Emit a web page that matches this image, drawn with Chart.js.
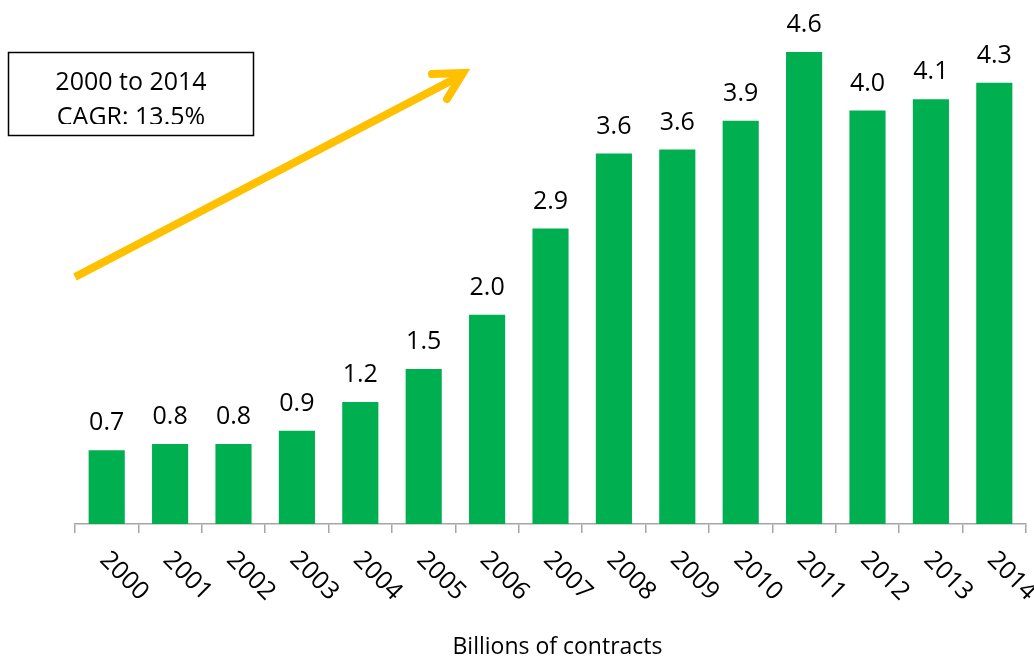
<!DOCTYPE html>
<html lang="en">
<head>
<meta charset="UTF-8">
<title>Billions of contracts 2000-2014</title>
<script src="https://cdn.jsdelivr.net/npm/chart.js@4.4.9/dist/chart.umd.js"></script>
<style>
    body { margin: 0; background: #fff; }
    .chart-container { width: 1034px; height: 657px; position: relative; }
</style>
<script>
    // values
    const years = ['2000', '2001', '2002', '2003', '2004', '2005', '2006', '2007',
                   '2008', '2009', '2010', '2011', '2012', '2013', '2014'];
    const contracts = [0.72, 0.78, 0.78, 0.91, 1.19, 1.51, 2.04, 2.88,
                       3.61, 3.65, 3.93, 4.6, 4.03, 4.14, 4.30];
    const boxLines = ['2000 to 2014', 'CAGR: 13.5%'];
    const axisTitle = 'Billions of contracts';

    const FONT = '25px "Open Sans", sans-serif';

    // value labels above bars, rotated year labels, title, CAGR box + arrow
    const extras = {
        id: 'extras',
        afterDatasetsDraw(chart) {
            const ctx = chart.ctx;
            const x = chart.scales.x;
            const meta = chart.getDatasetMeta(0);
            ctx.save();
            ctx.fillStyle = '#000';
            ctx.font = FONT;
            ctx.textAlign = 'center';
            ctx.textBaseline = 'alphabetic';
            meta.data.forEach((bar, i) => {
                ctx.fillText(contracts[i].toFixed(1), bar.x, bar.y - 20);
            });

            // year labels, tilted 45 degrees down to the right
            ctx.textAlign = 'left';
            ctx.textBaseline = 'middle';
            years.forEach((yr, i) => {
                const cx = x.getPixelForValue(i);
                ctx.save();
                ctx.translate(cx - 3, 556);
                ctx.rotate(Math.PI / 4);
                ctx.fillText(yr, 0, 0);
                ctx.restore();
            });

            ctx.textAlign = 'center';
            ctx.textBaseline = 'alphabetic';
            ctx.font = '23px "Open Sans", sans-serif';
            ctx.fillText(axisTitle, (x.left + x.right) / 2 + 7, 654);
            ctx.font = FONT;

            // CAGR box (second line is cut off at the bottom, as in the original)
            ctx.strokeStyle = '#000';
            ctx.lineWidth = 1.5;
            ctx.strokeRect(8.5, 52.5, 245, 83);
            ctx.save();
            ctx.beginPath();
            ctx.rect(9, 53, 244, 71);
            ctx.clip();
            ctx.fillText(boxLines[0], 131, 90);
            ctx.fillText(boxLines[1], 131, 125);
            ctx.restore();

            // growth arrow
            ctx.strokeStyle = '#FFC000';
            ctx.lineWidth = 8;
            ctx.lineCap = 'butt';
            ctx.beginPath();
            ctx.moveTo(75, 277);
            ctx.lineTo(462, 75);
            ctx.stroke();
            ctx.lineCap = 'round';
            ctx.lineJoin = 'miter';
            ctx.beginPath();
            ctx.moveTo(432, 74);
            ctx.lineTo(463, 73);
            ctx.lineTo(447, 99);
            ctx.stroke();
            ctx.restore();
        }
    };

    document.addEventListener('DOMContentLoaded', function () {
        new Chart(document.getElementById('bar-chart'), {
            type: 'bar',
            data: {
                labels: years,
                datasets: [{
                    data: contracts,
                    backgroundColor: '#00B050',
                    borderWidth: 0,
                    categoryPercentage: 1,
                    barPercentage: 0.57
                }]
            },
            options: {
                responsive: true,
                maintainAspectRatio: false,
                animation: false,
                layout: { padding: { left: 75, right: 8, top: 11, bottom: 124 } },
                plugins: {
                    legend: { display: false },
                    tooltip: { enabled: false }
                },
                scales: {
                    x: {
                        grid: {
                            offset: true,
                            drawOnChartArea: false,
                            color: '#A6A6A6',
                            tickLength: 9,
                            lineWidth: 1.5
                        },
                        border: { color: '#A6A6A6', width: 1.5 },
                        ticks: { display: false }
                    },
                    y: {
                        display: false,
                        min: 0,
                        max: 5
                    }
                }
            },
            plugins: [extras]
        });
    });
</script>
</head>
<body>
    <div class="chart-container">
        <canvas id="bar-chart"></canvas>
    </div>
</body>
</html>
